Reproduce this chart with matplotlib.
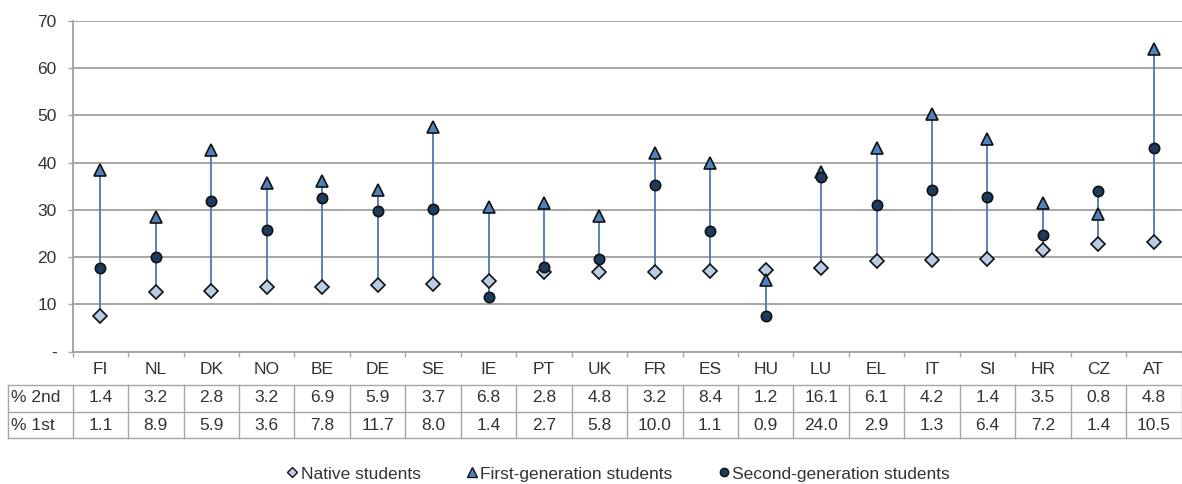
import matplotlib
matplotlib.use('Agg')
import matplotlib.pyplot as plt
from matplotlib.lines import Line2D
import matplotlib.transforms as mtrans
import numpy as np

plt.rcParams['font.family'] = ['Liberation Sans', 'DejaVu Sans']

countries = ['FI', 'NL', 'DK', 'NO', 'BE', 'DE', 'SE', 'IE', 'PT', 'UK',
             'FR', 'ES', 'HU', 'LU', 'EL', 'IT', 'SI', 'HR', 'CZ', 'AT']
native = [7.5, 12.6, 12.9, 13.6, 13.6, 14.1, 14.4, 14.9, 16.9, 16.8,
          16.8, 17.1, 17.3, 17.6, 19.1, 19.3, 19.5, 21.5, 22.7, 23.3]
first_gen = [38.4, 28.4, 42.7, 35.6, 36.2, 34.3, 47.6, 30.6, 31.4, 28.7,
             42.0, 40.0, 15.2, 38.1, 43.0, 50.2, 44.9, 31.4, 29.2, 64.0]
second_gen = [17.6, 20.0, 31.8, 25.8, 32.5, 29.8, 30.2, 11.5, 18.0, 19.7,
              35.2, 25.6, 7.5, 37.0, 31.1, 34.2, 32.7, 24.6, 34.0, 43.0]
pct_2nd = ['1.4', '3.2', '2.8', '3.2', '6.9', '5.9', '3.7', '6.8', '2.8', '4.8',
           '3.2', '8.4', '1.2', '16.1', '6.1', '4.2', '1.4', '3.5', '0.8', '4.8']
pct_1st = ['1.1', '8.9', '5.9', '3.6', '7.8', '11.7', '8.0', '1.4', '2.7', '5.8',
           '10.0', '1.1', '0.9', '24.0', '2.9', '1.3', '6.4', '7.2', '1.4', '10.5']
row_labels = ['% 2nd', '% 1st']
yticks = [0, 10, 20, 30, 40, 50, 60, 70]
ytick_labels = ['-', '10', '20', '30', '40', '50', '60', '70']
series_names = ['Native students', 'First-generation students', 'Second-generation students']

W, H = 1182, 484
GRID = '#a6a6a6'
TXT = '#333333'
FS = 12.5
fig = plt.figure(figsize=(W / 100, H / 100), dpi=100)
ax_left, ax_right, ax_top, ax_bot = 72.7, 1181.5, 20.7, 351.7
ax = fig.add_axes([ax_left / W, 1 - ax_bot / H, (ax_right - ax_left) / W, (ax_bot - ax_top) / H])

x = np.arange(len(countries))
vals = np.array([native, first_gen, second_gen])
lo = vals.min(axis=0)
hi = vals.max(axis=0)
ax.vlines(x, lo, hi, color='#4a78b4', lw=1.3, zorder=2)

mew = 1.2
h1, = ax.plot(x, native, ls='none', marker='D', ms=7.0, mfc='#b9cde5', mec='#111111', mew=mew, zorder=3)
h2, = ax.plot(x, first_gen, ls='none', marker='^', ms=8.6, mfc='#4f81bd', mec='#111111', mew=mew, zorder=4)
h3, = ax.plot(x, second_gen, ls='none', marker='o', ms=7.4, mfc='#1f3a5f', mec='#111111', mew=mew, zorder=5)

ax.set_xlim(-0.5, len(countries) - 0.5)
ax.set_ylim(0, 70)
ax.set_yticks(yticks)
ax.set_yticklabels(ytick_labels)
ax.set_xticks(np.arange(-0.5, len(countries), 1.0))
ax.set_xticklabels([])
ax.yaxis.grid(True, color=GRID, lw=1.4, zorder=0)
ax.set_axisbelow(True)
for s in ['top', 'right']:
    ax.spines[s].set_visible(False)
for s in ['left', 'bottom']:
    ax.spines[s].set_color(GRID)
    ax.spines[s].set_linewidth(1.4)
ax.tick_params(axis='y', direction='out', length=3.5, width=1, color=GRID, labelsize=FS, labelcolor=TXT, pad=8)
ax.tick_params(axis='x', direction='out', length=3.5, width=1, color=GRID)

# table below the axes
tr = mtrans.blended_transform_factory(ax.transData, fig.transFigure)
def fy(py):
    return 1 - py / H

for i, c in enumerate(countries):
    ax.text(i, fy(370), c, transform=tr, ha='center', va='center', fontsize=FS, color=TXT, clip_on=False)
    ax.text(i, fy(398), pct_2nd[i], transform=tr, ha='center', va='center', fontsize=FS, color=TXT, clip_on=False)
    ax.text(i, fy(425), pct_1st[i], transform=tr, ha='center', va='center', fontsize=FS, color=TXT, clip_on=False)

fig.text(11 / W, fy(398), row_labels[0], ha='left', va='center', fontsize=FS, color=TXT)
fig.text(11 / W, fy(425), row_labels[1], ha='left', va='center', fontsize=FS, color=TXT)

for py in [385, 411.7, 438]:
    fig.add_artist(Line2D([8 / W, ax_right / W], [fy(py), fy(py)], color=GRID, lw=1.0))
fig.add_artist(Line2D([8 / W, 8 / W], [fy(385), fy(438)], color=GRID, lw=1.0))
for k in range(len(countries) + 1):
    ax.add_line(Line2D([k - 0.5, k - 0.5], [fy(385), fy(438)], transform=tr, color=GRID, lw=1.0, clip_on=False))

handles = [
    Line2D([], [], ls='none', marker='D', ms=5.5, mfc='#b9cde5', mec='#111111', mew=1.0),
    Line2D([], [], ls='none', marker='^', ms=6.5, mfc='#4f81bd', mec='#111111', mew=1.0),
    Line2D([], [], ls='none', marker='o', ms=6.0, mfc='#1f3a5f', mec='#111111', mew=1.0),
]
leg = fig.legend(handles, series_names, loc='center', bbox_to_anchor=(618 / W, fy(474)), ncol=3,
                 frameon=False, fontsize=FS, handlelength=0.7, handletextpad=0.15, columnspacing=2.6,
                 borderpad=0, borderaxespad=0)
for t in leg.get_texts():
    t.set_color(TXT)

fig.savefig('out.png', dpi=100)
